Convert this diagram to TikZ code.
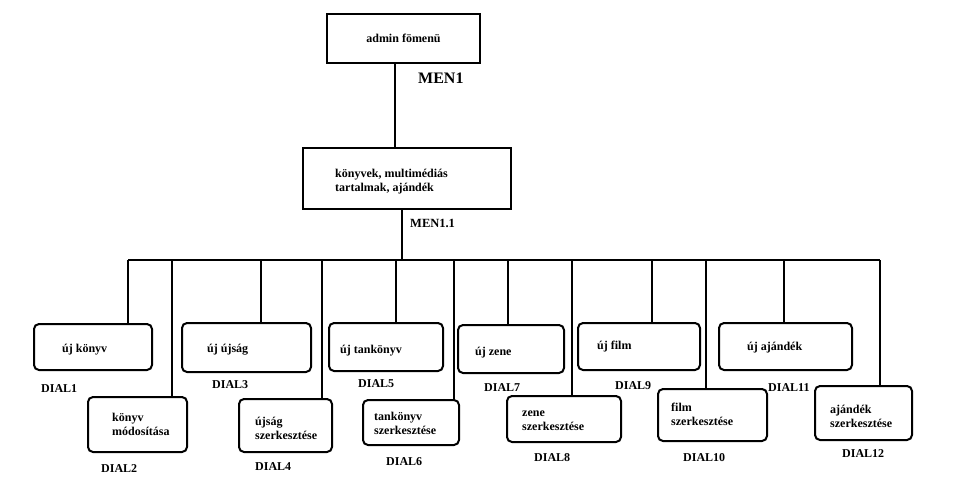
\documentclass[tikz,border=0pt]{standalone}
\usepackage{fontspec}
\setmainfont{Liberation Serif}
\usetikzlibrary{positioning}
\tikzset{
  menubox/.style={draw, line width=2pt, inner sep=0pt, font=\bfseries\fontsize{12}{14}\selectfont},
  dialbox/.style={draw, rounded corners=5pt, line width=2pt, inner sep=0pt},
  lbl/.style={inner sep=0pt, font=\bfseries\fontsize{12}{14}\selectfont, align=left},
  conn/.style={line width=2pt}
}

\begin{document}
\begin{tikzpicture}[x=1pt, y=-1pt]
    \useasboundingbox (0,0) rectangle (959,477);
    %% menus
    \node[menubox, minimum width=153, minimum height=49] (men1) at (403.5,38.5) {admin f\"omen\"u};
    \node[inner sep=0pt, anchor=base west, font=\bfseries\fontsize{16}{18}\selectfont] (men1lbl) at (418,83) {MEN1};
    \node[menubox, minimum width=208, minimum height=61] (men11) at (407,178.5) {};
    \node[lbl, anchor=west] (men11txt) at (335,181.5) {k\"onyvek, multim\'edi\'as\\tartalmak, aj\'and\'ek};
    \node[inner sep=0pt, anchor=base west, font=\bfseries\fontsize{12.5}{14}\selectfont] (men11lbl) at (410,227) {MEN1.1};
    %% -- connections of the menus
    \draw[conn] ([xshift=-8.5pt]men1.south) -- ([xshift=-8.5pt]men1.south |- men11.north);
    \coordinate (busmid) at (402,260);
    \coordinate (busL) at (128,260);
    \coordinate (busR) at (880,260);
    \draw[conn] (men11.south -| busmid) -- (busmid);
    \draw[conn] (busL) -- (busR);
    %% dialogs
    \node[dialbox, minimum width=118, minimum height=46] (d1) at (93,347) {};
    \node[dialbox, minimum width=99, minimum height=55] (d2) at (137.5,424.5) {};
    \node[dialbox, minimum width=129, minimum height=49] (d3) at (246.5,347.5) {};
    \node[dialbox, minimum width=93, minimum height=53] (d4) at (285.5,425.5) {};
    \node[dialbox, minimum width=114, minimum height=48] (d5) at (386,347) {};
    \node[dialbox, minimum width=96, minimum height=45] (d6) at (411,422.5) {};
    \node[dialbox, minimum width=106, minimum height=48] (d7) at (511,349) {};
    \node[dialbox, minimum width=114, minimum height=46] (d8) at (564,419) {};
    \node[dialbox, minimum width=122, minimum height=47] (d9) at (639,346.5) {};
    \node[dialbox, minimum width=109, minimum height=52] (d10) at (712.5,415) {};
    \node[dialbox, minimum width=133, minimum height=47] (d11) at (785.5,346.5) {};
    \node[dialbox, minimum width=97, minimum height=54] (d12) at (863.5,413) {};
    %% -- texts in the dialogs
    \node[lbl, anchor=base west] (t1) at (62,352) {\'uj k\"onyv};
    \node[lbl, anchor=west] (t2) at (112,424.5) {k\"onyv\\m\'odos\'it\'asa};
    \node[lbl, anchor=base west] (t3) at (207,352) {\'uj \'ujs\'ag};
    \node[lbl, anchor=west] (t4) at (255,428) {\'ujs\'ag\\szerkeszt\'ese};
    \node[lbl, anchor=base west] (t5) at (340,353) {\'uj tank\"onyv};
    \node[lbl, anchor=west] (t6) at (374,423) {tank\"onyv\\szerkeszt\'ese};
    \node[lbl, anchor=base west] (t7) at (475,355) {\'uj zene};
    \node[lbl, anchor=west] (t8) at (522,421) {zene\\szerkeszt\'ese};
    \node[lbl, anchor=base west] (t9) at (597,349) {\'uj film};
    \node[lbl, anchor=west] (t10) at (671,414.5) {film\\szerkeszt\'ese};
    \node[lbl, anchor=base west] (t11) at (747,350) {\'uj aj\'and\'ek};
    \node[lbl, anchor=west] (t12) at (830,416) {aj\'and\'ek\\szerkeszt\'ese};
    %% -- dialog names
    \node[lbl, anchor=base west] (n1) at (41,392) {DIAL1};
    \node[lbl, anchor=base west] (n2) at (101,472) {DIAL2};
    \node[lbl, anchor=base west] (n3) at (212,388) {DIAL3};
    \node[lbl, anchor=base west] (n4) at (255,470) {DIAL4};
    \node[lbl, anchor=base west] (n5) at (358,387) {DIAL5};
    \node[lbl, anchor=base west] (n6) at (386,465) {DIAL6};
    \node[lbl, anchor=base west] (n7) at (484,391) {DIAL7};
    \node[lbl, anchor=base west] (n8) at (534,461) {DIAL8};
    \node[lbl, anchor=base west] (n9) at (615,389) {DIAL9};
    \node[lbl, anchor=base west] (n10) at (683,461) {DIAL10};
    \node[lbl, anchor=base west] (n11) at (768,391) {DIAL11};
    \node[lbl, anchor=base west] (n12) at (842,457) {DIAL12};
    %% -- drops from the bus
    \coordinate (b1) at (128,260);
    \coordinate (b2) at (172,260);
    \coordinate (b3) at (261,260);
    \coordinate (b4) at (322,260);
    \coordinate (b5) at (396,260);
    \coordinate (b6) at (454,260);
    \coordinate (b7) at (508,260);
    \coordinate (b8) at (572,260);
    \coordinate (b9) at (652,260);
    \coordinate (b10) at (706,260);
    \coordinate (b11) at (784,260);
    \coordinate (b12) at (880,260);
    \draw[conn] (b1) -- (b1 |- d1.north);
    \draw[conn] (b2) -- (b2 |- d2.north);
    \draw[conn] (b3) -- (b3 |- d3.north);
    \draw[conn] (b4) -- (b4 |- d4.north);
    \draw[conn] (b5) -- (b5 |- d5.north);
    \draw[conn] (b6) -- (b6 |- d6.north);
    \draw[conn] (b7) -- (b7 |- d7.north);
    \draw[conn] (b8) -- (b8 |- d8.north);
    \draw[conn] (b9) -- (b9 |- d9.north);
    \draw[conn] (b10) -- (b10 |- d10.north);
    \draw[conn] (b11) -- (b11 |- d11.north);
    \draw[conn] (b12) -- (b12 |- d12.north);
\end{tikzpicture}
\end{document}
